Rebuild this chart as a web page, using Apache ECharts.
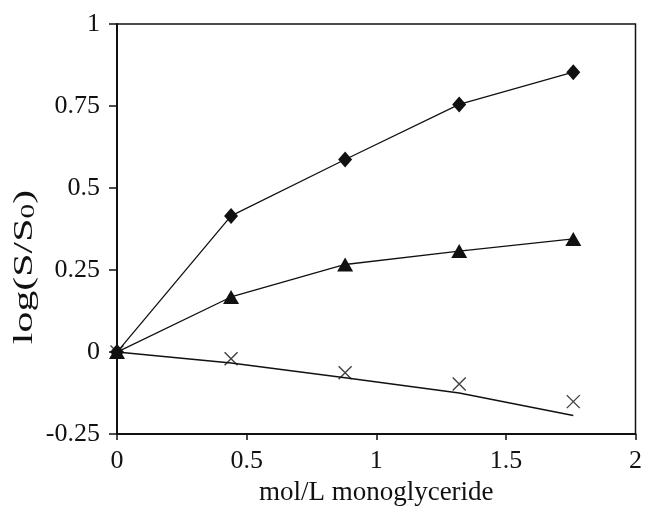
<!DOCTYPE html>
<html>
<head>
<meta charset="utf-8">
<script src="https://cdn.jsdelivr.net/npm/echarts@6/dist/echarts.min.js"></script>
<style>html,body{margin:0;padding:0;background:#fff;}#c{width:645px;height:511px;}</style>
</head>
<body>
<div id="c"></div>
<script>
var xValues = [0, 0.44, 0.88, 1.32, 1.76];
var diamondValues = [0, 0.415, 0.587, 0.755, 0.853];
var triangleValues = [0, 0.168, 0.267, 0.308, 0.345];
var crossValues = [0, -0.02, -0.063, -0.097, -0.151];
var crossTrendValues = [0, -0.033, -0.078, -0.125, -0.193];
var xTicks = [0, 0.5, 1, 1.5, 2];
var yTicks = [-0.25, 0, 0.25, 0.5, 0.75, 1];
var xTitle = 'mol/L monoglyceride';
var yTitleParts = ['log(S/S', '0', ')'];

function pairs(ys){ return xValues.map(function(x,i){ return [x, ys[i]]; }); }

var crossPath = 'path://M0,0L10,10M10,0L0,10';
var font = 'Liberation Serif';

var chart = echarts.init(document.getElementById('c'), null, {renderer:'canvas'});
chart.setOption({
  animation: false,
  backgroundColor: '#fff',
  grid: {left: 117, top: 24, right: 8, bottom: 72, show: true, borderColor: '#111', borderWidth: 1.5, containLabel: false},
  graphic: [{
    type: 'text', x: 25, y: 267, rotation: Math.PI / 2, scaleX: 1.55, scaleY: 1,
    style: {
      text: '{m|' + yTitleParts[0] + '}{s|' + yTitleParts[1] + '}{m|' + yTitleParts[2] + '}',
      align: 'center', verticalAlign: 'middle',
      rich: {
        m: {fontFamily: font, fontSize: 27, fill: '#111'},
        s: {fontFamily: font, fontSize: 19, fill: '#111', padding: [8, 0, 0, 0]}
      }
    }
  }],
  xAxis: {
    type: 'value', min: 0, max: 2, interval: 0.5,
    name: xTitle, nameLocation: 'middle', nameGap: 40,
    nameTextStyle: {fontFamily: font, fontSize: 27, color: '#111'},
    axisLine: {show: true, onZero: false, lineStyle: {color: '#111', width: 2}},
    axisTick: {show: true, inside: false, length: 6, lineStyle: {color: '#111', width: 1.5}},
    axisLabel: {fontFamily: font, fontSize: 26, color: '#111', margin: 14,
      formatter: function(v){ return xTicks.indexOf(v) >= 0 ? String(v) : ''; }},
    splitLine: {show: false}
  },
  yAxis: {
    type: 'value', min: -0.25, max: 1, interval: 0.25,
    axisLine: {show: true, onZero: false, lineStyle: {color: '#111', width: 2}},
    axisTick: {show: true, inside: false, length: 8, lineStyle: {color: '#111', width: 1.5}},
    axisLabel: {fontFamily: font, fontSize: 26, color: '#111', margin: 17,
      formatter: function(v){ return yTicks.indexOf(v) >= 0 ? String(v) : ''; }},
    splitLine: {show: false}
  },
  series: [
    {type: 'line', data: pairs(crossTrendValues), symbol: 'none', z: 2,
      lineStyle: {color: '#111', width: 1.5}},
    {type: 'scatter', data: pairs(crossValues), symbol: crossPath, symbolSize: 13, z: 3,
      itemStyle: {color: 'none', borderColor: '#111', borderWidth: 1.4}},
    {type: 'line', data: pairs(triangleValues), symbol: 'triangle', symbolSize: [16, 14], showAllSymbol: true, z: 4,
      lineStyle: {color: '#111', width: 1.3}, itemStyle: {color: '#111', borderWidth: 0}},
    {type: 'line', data: pairs(diamondValues), symbol: 'diamond', symbolSize: [14, 16], showAllSymbol: true, z: 5,
      lineStyle: {color: '#111', width: 1.3}, itemStyle: {color: '#111', borderWidth: 0}}
  ]
});
</script>
</body>
</html>
